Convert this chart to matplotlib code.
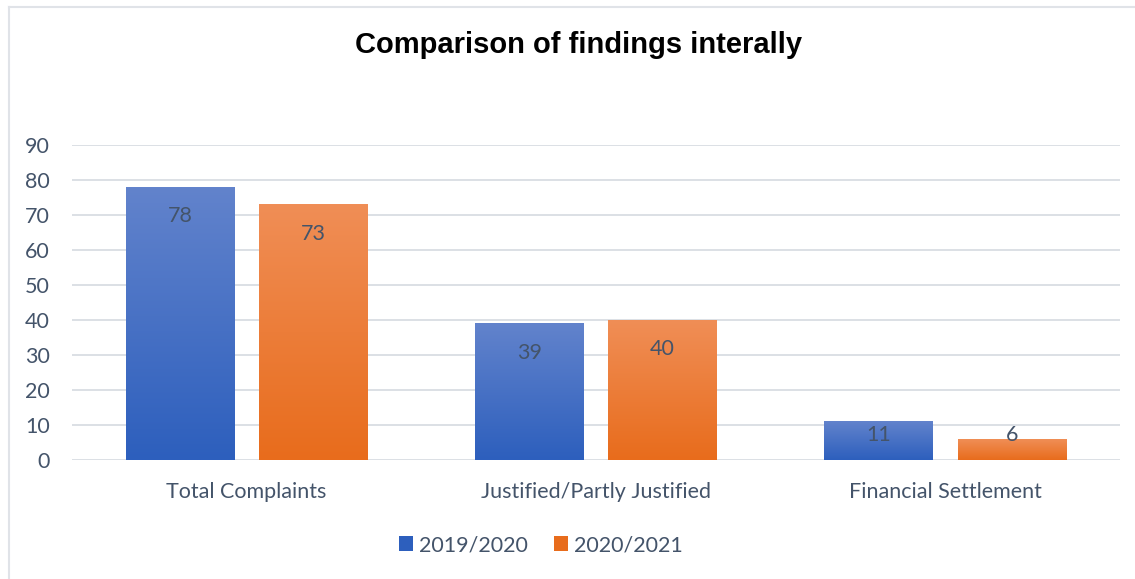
import numpy as np
import matplotlib.pyplot as plt
from matplotlib.lines import Line2D
from matplotlib.colors import LinearSegmentedColormap

categories = ["Total Complaints", "Justified/Partly Justified", "Financial Settlement"]
series_names = ["2019/2020", "2020/2021"]
values_2019 = [78, 39, 11]
values_2020 = [73, 40, 6]
yticks = [0, 10, 20, 30, 40, 50, 60, 70, 80, 90]

text_color = "#44546A"
grid_color = "#D9DDE3"
blue_top, blue_bot = "#6283CC", "#2D5FBD"
orange_top, orange_bot = "#F08E56", "#E86C1C"

plt.rcParams['font.family'] = ['Lato', 'DejaVu Sans']

W, H = 1135, 579
fig = plt.figure(figsize=(W / 100, H / 100), dpi=100)
ax = fig.add_axes([72/W, 1 - 460/H, 1048/W, 315/H])

x = np.arange(len(categories))
w = 0.311
off = 0.1907
bars1 = ax.bar(x - off, values_2019, w, color=blue_bot, label=series_names[0], zorder=2)
bars2 = ax.bar(x + off, values_2020, w, color=orange_bot, label=series_names[1], zorder=2)

def grad(bars, top, bot):
    cmap = LinearSegmentedColormap.from_list("g", [bot, top])
    grad_img = np.linspace(0, 1, 256).reshape(-1, 1)
    for b in bars:
        x0, wd, h = b.get_x(), b.get_width(), b.get_height()
        ax.imshow(grad_img, cmap=cmap, origin="lower", aspect="auto",
                  extent=[x0, x0 + wd, 0, h], zorder=2.5)
grad(bars1, blue_top, blue_bot)
grad(bars2, orange_top, orange_bot)
ax.set_xlim(-0.5, len(categories) - 0.5)
ax.set_ylim(0, 90)

for bars, vals in ((bars1, values_2019), (bars2, values_2020)):
    for b, v in zip(bars, vals):
        ax.text(b.get_x() + b.get_width() / 2, max(v - 8.4, 7.1), str(v),
                ha="center", va="center", fontsize=15.5, color=text_color, zorder=4)

ax.set_yticks(yticks)
ax.set_xticks(x)
ax.set_xticklabels(categories)
ax.tick_params(axis="both", length=0, labelsize=15.5, labelcolor=text_color)
ax.tick_params(axis="x", pad=16)
ax.tick_params(axis="y", pad=16)
ax.grid(axis="y", color=grid_color, linewidth=1.3, zorder=0)
for s in ax.spines.values():
    s.set_visible(False)

fig.text(579/W, 1 - 45/H, "Comparison of findings interally", ha="center", va="center",
         fontsize=21, fontweight="bold", family="Liberation Sans", color="black")

leg = fig.legend(loc="center", bbox_to_anchor=(541/W, 1 - 545/H), ncol=2, frameon=False,
                 fontsize=15.5, handlelength=0.65, handleheight=0.65, handletextpad=0.3,
                 columnspacing=1.2)
for t in leg.get_texts():
    t.set_color(text_color)

border = "#E0E3E8"
fig.lines.append(Line2D([8.5/W, 8.5/W], [0, 1 - 6.5/H], transform=fig.transFigure,
                        color=border, linewidth=1.5))
fig.lines.append(Line2D([8.5/W, 1], [1 - 6.5/H, 1 - 6.5/H], transform=fig.transFigure,
                        color=border, linewidth=1.5))

fig.savefig("out.png", dpi=100)
